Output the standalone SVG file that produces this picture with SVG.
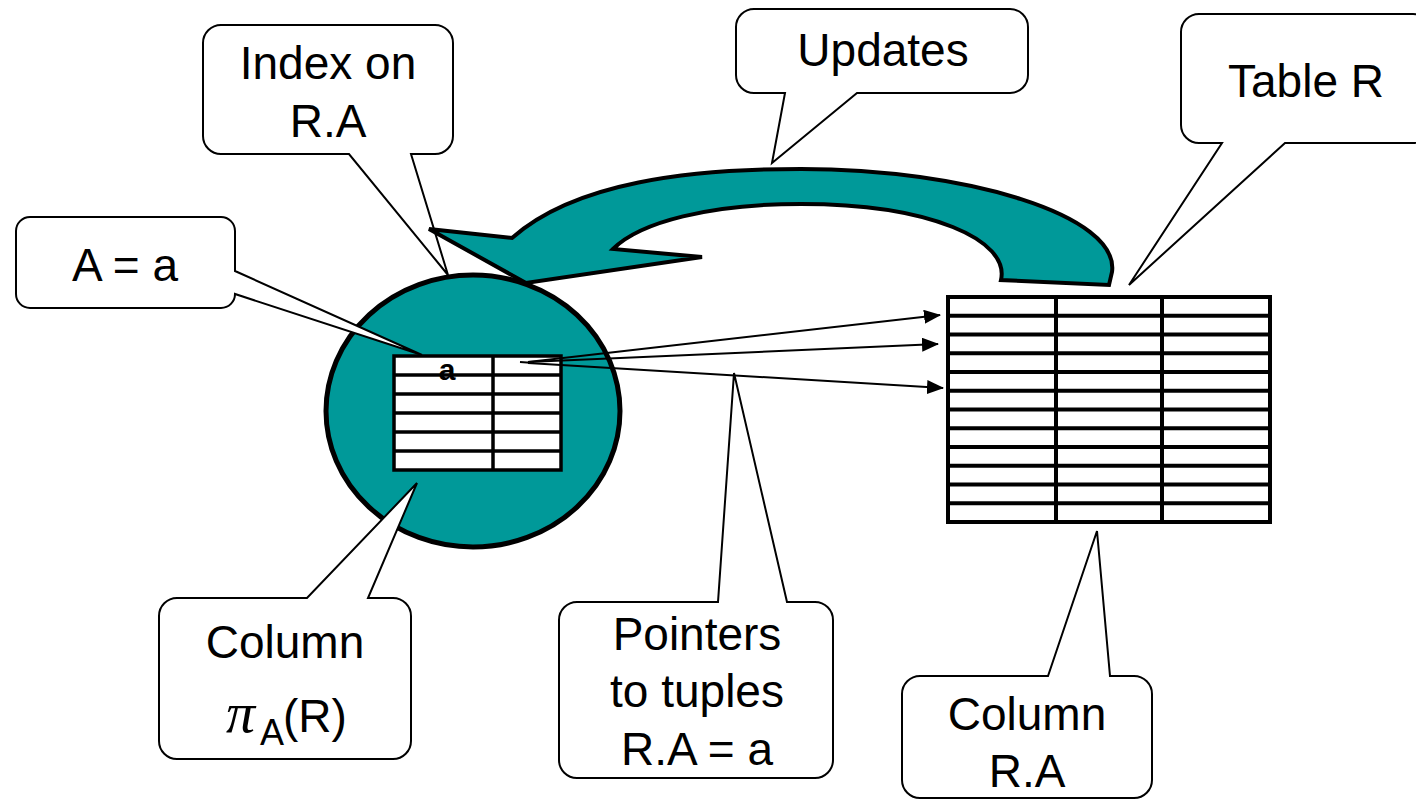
<svg xmlns="http://www.w3.org/2000/svg" width="1416" height="801" viewBox="0 0 1416 801">
  <defs>
    <style>
      .callout { fill: #ffffff; stroke: #000000; stroke-width: 2; stroke-linejoin: miter; }
      .label { font-family: "Liberation Sans", Arial, sans-serif; font-size: 46px; fill: #000000; text-anchor: middle; }
      .grid { stroke: #000000; fill: none; }
      .ptr { stroke: #000000; stroke-width: 2; fill: none; }
    </style>
    <marker id="head" markerUnits="userSpaceOnUse" markerWidth="17" markerHeight="14" refX="16" refY="7" orient="auto">
      <path d="M0,0 L17,7 L0,14 Z" fill="#000000"/>
    </marker>
  </defs>

  <rect width="1416" height="801" fill="#ffffff"/>

  <!-- index: teal disc holding the two-column index table -->
  <g id="index">
    <ellipse cx="473" cy="411" rx="147" ry="136" fill="#009999" stroke="#000000" stroke-width="5"/>
    <rect x="394" y="356" width="167" height="114" fill="#ffffff"/>
    <text x="447" y="380" font-family="Liberation Sans, Arial, sans-serif" font-size="30" font-weight="bold" text-anchor="middle">a</text>
    <g class="grid" stroke-width="3.5">
      <rect x="394" y="356" width="167" height="114"/>
      <line x1="493" y1="356" x2="493" y2="470"/>
      <line x1="394" y1="375" x2="561" y2="375"/>
      <line x1="394" y1="394" x2="561" y2="394"/>
      <line x1="394" y1="413" x2="561" y2="413"/>
      <line x1="394" y1="432" x2="561" y2="432"/>
      <line x1="394" y1="451" x2="561" y2="451"/>
    </g>
  </g>

  <!-- callout: Index on R.A -->
  <g id="callout-index">
    <path class="callout" d="M221,25 H435 A18,18 0 0 1 453,43 V136 A18,18 0 0 1 435,154 H411 L448,275 L349,154 H221 A18,18 0 0 1 203,136 V43 A18,18 0 0 1 221,25 Z"/>
    <text class="label" x="328" y="79">Index on</text>
    <text class="label" x="328" y="137">R.A</text>
  </g>

  <!-- updates: curved block arrow from table back to index -->
  <g id="updates-arrow">
    <path d="M429,229 L512,238 C575,182 690,169 801,169 C965,169 1120,215 1112,272 L1109,285 L1001,280 C1010,240 930,204 801,204 C710,204 640,222 613,249 L702,257 L526,283 Z" fill="#009999" stroke="#000000" stroke-width="4" stroke-linejoin="miter"/>
  </g>

  <!-- table R -->
  <g id="table-r">
    <rect x="948" y="297" width="322" height="225" fill="#ffffff"/>
    <g class="grid" stroke-width="4">
      <rect x="948" y="297" width="322" height="225"/>
      <line x1="1056" y1="297" x2="1056" y2="522"/>
      <line x1="1162" y1="297" x2="1162" y2="522"/>
      <line x1="948" y1="315.75" x2="1270" y2="315.75"/>
      <line x1="948" y1="334.5" x2="1270" y2="334.5"/>
      <line x1="948" y1="353.25" x2="1270" y2="353.25"/>
      <line x1="948" y1="372" x2="1270" y2="372"/>
      <line x1="948" y1="390.75" x2="1270" y2="390.75"/>
      <line x1="948" y1="409.5" x2="1270" y2="409.5"/>
      <line x1="948" y1="428.25" x2="1270" y2="428.25"/>
      <line x1="948" y1="447" x2="1270" y2="447"/>
      <line x1="948" y1="465.75" x2="1270" y2="465.75"/>
      <line x1="948" y1="484.5" x2="1270" y2="484.5"/>
      <line x1="948" y1="503.25" x2="1270" y2="503.25"/>
    </g>
  </g>

  <!-- connectors: pointers from the index entry to matching tuples -->
  <g id="connectors">
    <line class="ptr" x1="520" y1="362" x2="534" y2="363"/>
    <line class="ptr" x1="528" y1="362" x2="940" y2="315" marker-end="url(#head)"/>
    <line class="ptr" x1="528" y1="362" x2="938" y2="344" marker-end="url(#head)"/>
    <line class="ptr" x1="528" y1="363" x2="943" y2="388" marker-end="url(#head)"/>
  </g>

  <!-- callout: A = a -->
  <g id="callout-a">
    <path class="callout" d="M30,217 H221 A14,14 0 0 1 235,231 V271 L422,355 L235,294 A14,14 0 0 1 221,308 H30 A14,14 0 0 1 16,294 V231 A14,14 0 0 1 30,217 Z"/>
    <text class="label" x="125" y="281">A = a</text>
  </g>

  <!-- callout: Updates -->
  <g id="callout-updates">
    <path class="callout" d="M754,9 H1010 A18,18 0 0 1 1028,27 V75 A18,18 0 0 1 1010,93 H857 L772,163 L785,93 H754 A18,18 0 0 1 736,75 V27 A18,18 0 0 1 754,9 Z"/>
    <text class="label" x="883" y="66">Updates</text>
  </g>

  <!-- callout: Table R -->
  <g id="callout-table">
    <path class="callout" d="M1199,14 H1413 A18,18 0 0 1 1431,32 V125 A18,18 0 0 1 1413,143 H1285 L1129,285 L1222,143 H1199 A18,18 0 0 1 1181,125 V32 A18,18 0 0 1 1199,14 Z"/>
    <text class="label" x="1306" y="97">Table R</text>
  </g>

  <!-- callout: Column pi_A(R) -->
  <g id="callout-projection">
    <path class="callout" d="M177,598 H307 L417,483 L368,598 H393 A18,18 0 0 1 411,616 V741 A18,18 0 0 1 393,759 H177 A18,18 0 0 1 159,741 V616 A18,18 0 0 1 177,598 Z"/>
    <text class="label" x="285" y="658">Column</text>
    <text font-family="Liberation Sans, Arial, sans-serif" font-size="46" fill="#000000"><tspan x="226" y="732" font-family="Liberation Serif, Times New Roman, serif" font-style="italic" font-size="58">π</tspan><tspan x="260" y="745" font-size="36">A</tspan><tspan x="283" y="732">(R)</tspan></text>
  </g>

  <!-- callout: Pointers to tuples -->
  <g id="callout-pointers">
    <path class="callout" d="M577,602 H718 L734,373 L787,602 H815 A18,18 0 0 1 833,620 V760 A18,18 0 0 1 815,778 H577 A18,18 0 0 1 559,760 V620 A18,18 0 0 1 577,602 Z"/>
    <text class="label" x="697" y="650">Pointers</text>
    <text class="label" x="697" y="707">to tuples</text>
    <text class="label" x="697" y="765">R.A = a</text>
  </g>

  <!-- callout: Column R.A -->
  <g id="callout-column">
    <path class="callout" d="M920,676 H1048 L1097,531 L1110,676 H1134 A18,18 0 0 1 1152,694 V780 A18,18 0 0 1 1134,798 H920 A18,18 0 0 1 902,780 V694 A18,18 0 0 1 920,676 Z"/>
    <text class="label" x="1027" y="730">Column</text>
    <text class="label" x="1027" y="787">R.A</text>
  </g>
</svg>
